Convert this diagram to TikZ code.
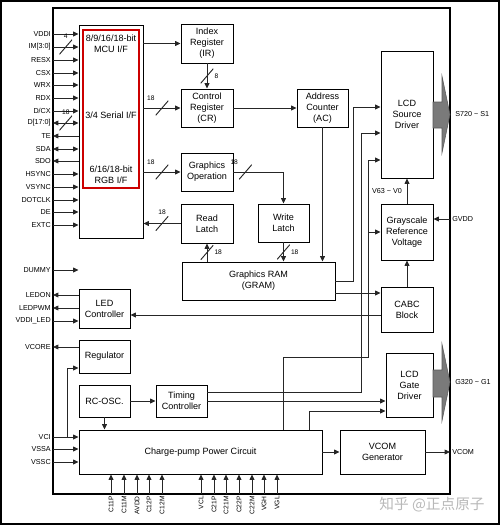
\documentclass[tikz,border=0pt]{standalone}
\usepackage{fontspec}
\setmainfont{Liberation Sans}
\newfontfamily\cjk{Noto Sans CJK SC}
\usetikzlibrary{arrows.meta}

\begin{document}
\begin{tikzpicture}[x=0.75pt, y=-0.75pt,
    >={Triangle[length=4pt, width=3.6pt]},
    blk/.style 2 args={draw, line width=0.7pt, minimum width=#1*0.75pt, minimum height=#2*0.75pt,
        inner sep=0pt, align=center, font=\fontsize{6.8}{8.2}\selectfont},
    txt/.style={align=center, inner sep=0pt, font=\fontsize{6.8}{8.2}\selectfont},
    wire/.style={line width=0.6pt, draw=black!85},
    pinlbl/.style={anchor=east, inner sep=1.5pt, font=\fontsize{5.4}{6}\selectfont},
    outlbl/.style={anchor=west, inner sep=1.5pt, font=\fontsize{5.4}{6}\selectfont},
    bpin/.style={anchor=east, rotate=90, inner sep=1.5pt, font=\fontsize{5}{6}\selectfont},
    buslbl/.style={inner sep=0.3pt, font=\fontsize{5}{5}\selectfont},
    busmark/.style={minimum width=9.5pt, minimum height=11pt, inner sep=0pt,
        path picture={\draw[-, line width=0.7pt, black!85] (path picture bounding box.south west) -- (path picture bounding box.north east);}},
    bigarrow/.style={fill=black!52, draw=black!65, line width=0.4pt}
]
    \useasboundingbox (0,0) rectangle (500,525);
    \draw[line width=0.8pt] (1,1) rectangle (499,524);
    \draw[line width=1.5pt] (53,8) rectangle (450,494);

    % Nodes
    \node (ifc) [blk={64}{213}] at (111,131.5) {};
    \node (red) [draw=red!80!black, line width=1pt, minimum width=56*0.75pt, minimum height=158*0.75pt] at (111,109) {};
    \node (mcu) [txt] at (111,44) {8/9/16/18-bit\\MCU I/F};
    \node (ser) [txt] at (111,115) {3/4 Serial I/F};
    \node (rgb) [txt] at (111,174.5) {6/16/18-bit\\RGB I/F};

    \node (ir) [blk={52}{39}] at (207,43.5) {Index\\Register\\(IR)};
    \node (cr) [blk={52}{38}] at (207,108) {Control\\Register\\(CR)};
    \node (gop) [blk={52}{38}] at (207,172) {Graphics\\Operation};
    \node (rl) [blk={52}{39}] at (207,223.5) {Read\\Latch};
    \node (wl) [blk={51}{38}] at (283.5,223) {Write\\Latch};
    \node (gram) [blk={153}{38}] at (258.5,281) {Graphics RAM\\(GRAM)};
    \node (ac) [blk={51}{38}] at (322.5,108) {Address\\Counter\\(AC)};
    \node (src) [blk={52}{127}] at (407,114.5) {LCD\\Source\\Driver};
    \node (gsv) [blk={52}{56}] at (407,232) {Grayscale\\Reference\\Voltage};
    \node (cabc) [blk={52}{45}] at (407,309.5) {CABC\\Block};
    \node (gate) [blk={47}{64}] at (409.5,385) {LCD\\Gate\\Driver};
    \node (vcom) [blk={85}{44}] at (382.5,452) {VCOM\\Generator};
    \node (cp) [blk={243}{44}] at (200.5,452) {Charge-pump Power Circuit};
    \node (led) [blk={51}{39}] at (104.5,308.5) {LED\\Controller};
    \node (reg) [blk={51}{33}] at (104.5,356.5) {Regulator};
    \node (osc) [blk={51}{32}] at (104.5,401) {RC-OSC.};
    \node (tc) [blk={51}{32}] at (181.5,401) {Timing\\Controller};

    % Output arrows
    \draw[bigarrow] (433,102) -- (442,102) -- (442,76) -- (450,114.5) -- (442,153) -- (442,128) -- (433,128) -- cycle;
    \draw[bigarrow] (433,370) -- (442,370) -- (442,344) -- (450,382) -- (442,421) -- (442,397) -- (433,397) -- cycle;
    \node (srcout) [outlbl] at (453,114) {S720 \textasciitilde\ S1};
    \node (gateout) [outlbl] at (453,382) {G320 \textasciitilde\ G1};

    % Pins on the left
    \node (vddi) [pinlbl] at (53,34) {VDDI};
    \node (im) [pinlbl] at (53,47) {IM[3:0]};
    \node (resx) [pinlbl] at (53,60) {RESX};
    \node (csx) [pinlbl] at (53,73) {CSX};
    \node (wrx) [pinlbl] at (53,85) {WRX};
    \node (rdx) [pinlbl] at (53,98) {RDX};
    \node (dcx) [pinlbl] at (53,111) {D/CX};
    \node (dbus) [pinlbl] at (53,123) {D[17:0]};
    \node (te) [pinlbl] at (53,136) {TE};
    \node (sda) [pinlbl] at (53,149) {SDA};
    \node (sdo) [pinlbl] at (53,161) {SDO};
    \node (hsync) [pinlbl] at (53,174) {HSYNC};
    \node (vsync) [pinlbl] at (53,187) {VSYNC};
    \node (dotclk) [pinlbl] at (53,200) {DOTCLK};
    \node (de) [pinlbl] at (53,212) {DE};
    \node (extc) [pinlbl] at (53,225) {EXTC};
    \node (dummy) [pinlbl] at (53,270) {DUMMY};
    \node (ledon) [pinlbl] at (53,295) {LEDON};
    \node (ledpwm) [pinlbl] at (53,308) {LEDPWM};
    \node (vddiled) [pinlbl] at (53,321) {VDDI\_LED};
    \node (vcore) [pinlbl] at (53,347) {VCORE};
    \node (vci) [pinlbl] at (53,437) {VCI};
    \node (vssa) [pinlbl] at (53,449) {VSSA};
    \node (vssc) [pinlbl] at (53,462) {VSSC};

    % Pins on the right
    \node (gvdd) [outlbl] at (450,219) {GVDD};
    \node (vcomout) [outlbl] at (450,452) {VCOM};

    % Pins at the bottom
    \node (c11p) [bpin] at (111,494) {C11P};
    \node (c11m) [bpin] at (124,494) {C11M};
    \node (avdd) [bpin] at (137,494) {AVDD};
    \node (c12p) [bpin] at (149,494) {C12P};
    \node (c12m) [bpin] at (162,494) {C12M};
    \node (vcl) [bpin] at (201,494) {VCL};
    \node (c21p) [bpin] at (214,494) {C21P};
    \node (c21m) [bpin] at (226,494) {C21M};
    \node (c22p) [bpin] at (239,494) {C22P};
    \node (c22m) [bpin] at (252,494) {C22M};
    \node (vgh) [bpin] at (264,494) {VGH};
    \node (vgl) [bpin] at (277,494) {VGL};

    \node (mark) [text=black!28, inner sep=0pt, font=\cjk\fontsize{11}{12}\selectfont] at (432,505) {知乎 @正点原子};

    % Edges: pins into the interface
    \draw[wire,->] (vddi.east) -- (vddi.east -| ifc.west);
    \draw[wire,->] (im.east) -- node[busmark, label={[buslbl]above:4}] {} (im.east -| ifc.west);
    \draw[wire,->] (resx.east) -- (resx.east -| ifc.west);
    \draw[wire,->] (csx.east) -- (csx.east -| ifc.west);
    \draw[wire,->] (wrx.east) -- (wrx.east -| ifc.west);
    \draw[wire,->] (rdx.east) -- (rdx.east -| ifc.west);
    \draw[wire,->] (dcx.east) -- (dcx.east -| ifc.west);
    \draw[wire,<->] (dbus.east) -- node[busmark, label={[buslbl]above:18}] {} (dbus.east -| ifc.west);
    \draw[wire,->] (te.east -| ifc.west) -- (te.east);
    \draw[wire,<->] (sda.east) -- (sda.east -| ifc.west);
    \draw[wire,->] (sdo.east -| ifc.west) -- (sdo.east);
    \draw[wire,->] (hsync.east) -- (hsync.east -| ifc.west);
    \draw[wire,->] (vsync.east) -- (vsync.east -| ifc.west);
    \draw[wire,->] (dotclk.east) -- (dotclk.east -| ifc.west);
    \draw[wire,->] (de.east) -- (de.east -| ifc.west);
    \draw[wire,->] (extc.east) -- (extc.east -| ifc.west);
    \draw[wire,->] (dummy.east) -- (dummy.east -| ifc.west);

    % Edges: interface and registers
    \draw[wire,->] (ifc.east |- ir.west) -- (ir.west);
    \draw[wire,->] (ir) -- node[busmark, label={[buslbl]right:8}] {} (cr);
    \draw[wire,->] (ifc.east |- cr.west) -- node[busmark, label={[buslbl]above left:18}] {} (cr.west);
    \draw[wire,->] (ifc.east |- gop.west) -- node[busmark, label={[buslbl]above left:18}] {} (gop.west);
    \draw[wire,->] (rl.west) -- node[busmark, label={[buslbl]above:18}] {} (ifc.east |- rl.west);
    \draw[wire,->] (cr.east) -- (ac.west);
    \draw[wire,->] (gop.east) -| node[pos=0.12, busmark, label={[buslbl]above left:18}] {} (wl.north);
    \draw[wire,->] (gram.north -| rl) -- node[busmark, label={[buslbl]right:18}] {} (rl.south);
    \draw[wire,->] (wl.south) -- node[busmark, label={[buslbl]right:18}] {} (wl.south |- gram.north);
    \draw[wire,->] (ac.south) -- (ac.south |- gram.north);

    % Edges: drivers
    \draw[wire,->] (gram.east) -| (353,107) -- (src.west |- 0,107);
    \draw[wire,->] (tc.east |- 0,392) -| (361,133) -- (src.west |- 0,133);
    \draw[wire,->] (cp.north -| 283,0) |- (368,357) -- (368,160) -- (src.west |- 0,160);
    \draw[wire,->] (368,232) -- (gsv.west);
    \draw[wire,->] (gsv.north) -- node[pinlbl, xshift=-2pt] {V63 \textasciitilde\ V0} (src.south);
    \draw[wire,->] (gvdd.west) -- (gsv.east |- gvdd.west);
    \draw[wire,->] (cabc.north) -- (gsv.south);
    \draw[wire,->] (gram.east |- 0,293) -- (cabc.west |- 0,293);
    \draw[wire,->] (cabc.west |- 0,315) -- (led.east |- 0,315);
    \draw[wire,->] (tc.east) -- (tc.east -| gate.west);
    \draw[wire,->] (cp.north -| 309,0) |- (gate.west |- 0,411);
    \draw[wire,->] (cp.east) -- (vcom.west);
    \draw[wire,->] (vcom.east) -- (vcomout.west);

    % Edges: LED, regulator, power
    \draw[wire,->] (ledon.east -| led.west) -- (ledon.east);
    \draw[wire,->] (ledpwm.east -| led.west) -- (ledpwm.east);
    \draw[wire,->] (vddiled.east) -- (vddiled.east -| led.west);
    \draw[wire,->] (vcore.east -| reg.west) -- (vcore.east);
    \draw[wire,->] (osc.east) -- (tc.west);
    \draw[wire,->] (osc.south) -- (osc.south |- cp.north);
    \draw[wire,->] (vci.east) -- (vci.east -| cp.west);
    \draw[wire,->] (67,437) |- (reg.west |- 0,368);  % VCI also feeds the regulator
    \draw[wire,->] (vssa.east) -- (vssa.east -| cp.west);
    \draw[wire,->] (vssc.east) -- (vssc.east -| cp.west);

    % Edges: capacitor pins
    \draw[wire,->] (c11p.east) -- (c11p.east |- cp.south);
    \draw[wire,->] (c11m.east) -- (c11m.east |- cp.south);
    \draw[wire,->] (avdd.east) -- (avdd.east |- cp.south);
    \draw[wire,->] (c12p.east) -- (c12p.east |- cp.south);
    \draw[wire,->] (c12m.east) -- (c12m.east |- cp.south);
    \draw[wire,->] (vcl.east) -- (vcl.east |- cp.south);
    \draw[wire,->] (c21p.east) -- (c21p.east |- cp.south);
    \draw[wire,->] (c21m.east) -- (c21m.east |- cp.south);
    \draw[wire,->] (c22p.east) -- (c22p.east |- cp.south);
    \draw[wire,->] (c22m.east) -- (c22m.east |- cp.south);
    \draw[wire,->] (vgh.east) -- (vgh.east |- cp.south);
    \draw[wire,->] (vgl.east) -- (vgl.east |- cp.south);
\end{tikzpicture}
\end{document}
